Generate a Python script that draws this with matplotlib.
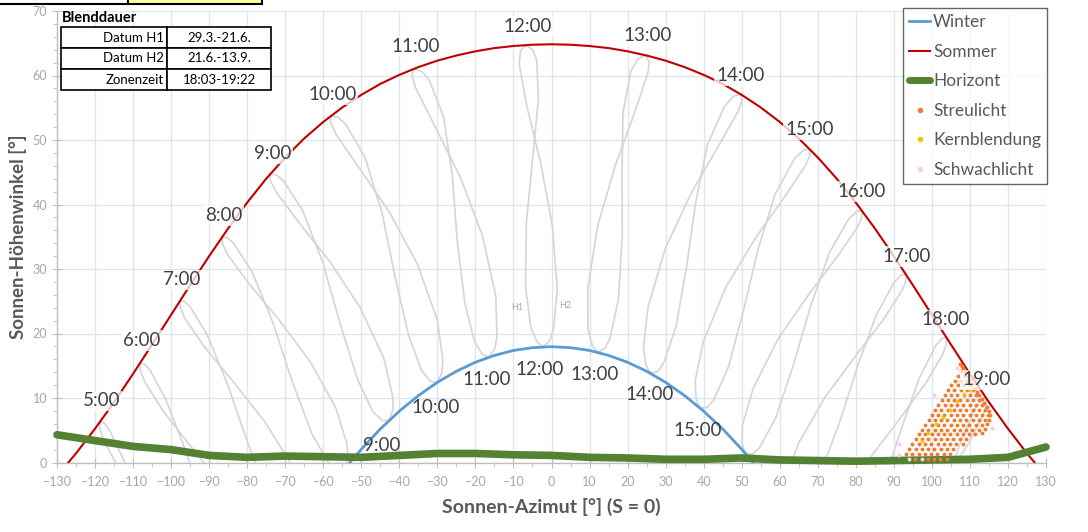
import matplotlib
matplotlib.use("Agg")
import matplotlib.pyplot as plt
from matplotlib.lines import Line2D
from matplotlib.patches import Rectangle
from matplotlib.ticker import MultipleLocator

plt.rcParams['font.family'] = ['Lato', 'DejaVu Sans']

# ---------------- data (read / estimated from the reference) ----------------
summer_az = [-127, -125, -120, -115, -110, -105, -100, -95, -90, -85, -80, -75, -70, -65, -60, -55, -50, -45,
             -40, -35, -30, -25, -20, -15, -10, -5, 0, 5, 10, 15, 20, 25, 30, 35, 40, 45, 50, 55, 60, 65,
             70, 75, 80, 85, 90, 95, 100, 105, 110, 115, 120, 125, 127]
summer_alt = [0, 1.42, 5.24, 9.35, 13.75, 18.3, 22.9, 27.5, 32.0, 36.3, 40.3, 44.0, 47.3, 50.25, 52.8, 55.05,
              57.0, 58.7, 60.1, 61.3, 62.3, 63.1, 63.75, 64.25, 64.57, 64.77, 64.84, 64.77, 64.57, 64.25,
              63.75, 63.1, 62.3, 61.3, 60.1, 58.7, 57.0, 55.05, 52.8, 50.25, 47.3, 44.0, 40.3, 36.3, 32.0,
              27.5, 22.9, 18.3, 13.75, 9.35, 5.24, 1.42, 0]

winter_az = [-53, -50, -45, -40, -35, -30, -25, -20, -15, -10, -5, 0, 5, 10, 15, 20, 25, 30, 35, 40, 45, 50, 53]
winter_alt = [0, 2.06, 5.2, 7.96, 10.37, 12.43, 14.15, 15.54, 16.6, 17.37, 17.8, 17.96, 17.8, 17.37, 16.6,
              15.54, 14.15, 12.43, 10.37, 7.96, 5.2, 2.06, 0]

horizon_az = [-130, -120, -110, -100, -90, -80, -70, -60, -50, -40, -30, -20, -10, 0, 10, 20, 30, 40, 50, 60,
              70, 80, 90, 100, 110, 120, 130]
horizon_alt = [4.3, 3.4, 2.5, 2.0, 1.1, 0.8, 1.0, 0.9, 0.8, 1.1, 1.4, 1.4, 1.2, 1.1, 0.8, 0.7, 0.5, 0.5, 0.7,
               0.4, 0.3, 0.2, 0.3, 0.4, 0.5, 0.8, 2.4]

# analemma loops per clock time (closed path Dec -> spring -> Jun -> autumn -> Dec)
loop_05_az = [-107.85, -112.50, -116.28, -117.58, -118.69, -118.74, -117.73, -113.24]
loop_05_alt = [-7.4, 0.44, 5.11, 6.11, 6.29, 5.30, 3.42, -1.45]
loop_06_az = [-91.31, -95.36, -96.48, -101.48, -105.60, -107.01, -108.16, -108.15, -106.98, -102.14, -94.77,
              -92.55, -86.75]
loop_06_alt = [-6.49, 0.34, 2.29, 9.91, 14.37, 15.28, 15.38, 14.39, 12.58, 7.99, 2.46, 0.81, -3.41]
loop_07_az = [-74.30, -77.87, -80.05, -85.21, -90.48, -94.94, -96.47, -97.70, -97.63, -96.33, -91.12, -83.47,
              -75.44, -68.31, -64.91]
loop_07_alt = [-4.74, -0.02, 3.38, 12.19, 19.76, 24.11, 24.98, 25.04, 24.05, 22.28, 17.82, 12.37, 6.38, -0.33,
               -5.70]
loop_08_az = [-54.32, -56.06, -58.61, -63.03, -68.38, -73.37, -78.77, -83.59, -85.28, -86.64, -86.56, -85.11,
              -79.50, -71.53, -63.48, -56.70, -53.76, -53.50, -54.32]
loop_08_alt = [-0.92, -1.16, -0.07, 4.49, 12.91, 21.92, 29.62, 34.01, 34.88, 34.94, 33.94, 32.18, 27.70, 22.04,
               15.66, 8.46, 2.82, 0.81, -0.92]
loop_09_az = [-42.70, -44.47, -46.92, -50.93, -55.64, -60.13, -65.39, -70.50, -72.39, -73.96, -73.90, -72.35,
              -66.35, -58.12, -50.24, -44.04, -41.72, -41.69, -42.70]
loop_09_alt = [6.52, 6.48, 7.83, 12.80, 21.67, 31.04, 39.06, 43.68, 44.61, 44.71, 43.72, 41.91, 37.18, 31.02,
               23.96, 16.09, 10.16, 8.13, 6.52]
loop_10_az = [-30.10, -31.89, -34.17, -37.57, -41.24, -44.62, -49.08, -54.10, -56.15, -58.00, -58.13, -56.61,
              -50.51, -42.44, -35.20, -30.02, -28.56, -28.84, -30.10]
loop_10_alt = [12.39, 12.60, 14.28, 19.72, 29.09, 38.89, 47.39, 52.45, 53.53, 53.77, 52.77, 50.84, 45.62, 38.64,
               30.69, 22.07, 15.87, 13.86, 12.39]
loop_11_az = [-16.49, -18.25, -20.27, -22.78, -24.80, -26.10, -28.39, -32.12, -34.04, -36.13, -36.71, -35.70,
              -30.59, -23.85, -18.17, -14.66, -14.33, -14.96, -16.49]
loop_11_alt = [16.32, 16.81, 18.81, 24.71, 34.50, 44.65, 53.62, 59.26, 60.58, 61.05, 60.11, 58.03, 52.09, 44.07,
               35.16, 25.84, 19.50, 17.57, 16.32]
loop_12_az = [-2.19, -3.85, -5.48, -6.83, -6.61, -4.92, -3.44, -3.88, -4.89, -6.73, -8.10, -8.49, -6.48, -2.82,
              0.22, 1.52, 0.55, -0.44, -2.19]
loop_12_alt = [17.93, 18.71, 21.03, 27.25, 37.19, 47.31, 56.36, 62.36, 63.94, 64.74, 63.92, 61.78, 55.27, 46.37,
               36.71, 26.98, 20.69, 18.90, 17.93]
loop_13_az = [12.20, 10.73, 9.58, 9.54, 12.14, 16.89, 22.15, 25.38, 25.67, 24.70, 22.83, 20.86, 18.79, 18.55,
              18.59, 17.61, 15.41, 14.10, 12.20]
loop_13_alt = [17.07, 18.11, 20.67, 27.01, 36.71, 46.26, 54.74, 60.47, 62.11, 63.14, 62.63, 60.70, 54.19, 45.01,
               35.08, 25.33, 19.32, 17.72, 17.07]
loop_14_az = [26.07, 24.83, 24.17, 25.35, 29.90, 36.74, 44.09, 49.08, 50.05, 49.77, 48.01, 45.47, 40.99, 37.90,
              35.57, 32.75, 29.57, 28.03, 26.07]
loop_14_alt = [13.81, 15.08, 17.79, 24.03, 33.15, 41.77, 49.29, 54.45, 56.00, 57.10, 56.84, 55.24, 49.23, 40.30,
               30.56, 21.11, 15.52, 14.15, 13.81]
loop_15_az = [39.03, 38.00, 37.78, 39.90, 45.73, 53.56, 61.48, 66.73, 67.86, 67.85, 66.37, 63.91, 58.79, 54.34,
              50.57, 46.50, 42.64, 40.95, 39.03]
loop_15_alt = [8.46, 9.90, 12.68, 18.69, 27.06, 34.73, 41.37, 46.02, 47.48, 48.60, 48.48, 47.13, 41.62, 33.14,
               23.78, 14.78, 9.67, 8.53, 8.46]
loop_16_az = [50.90, 50.08, 50.21, 53.02, 59.58, 67.68, 75.46, 80.46, 81.53, 81.63, 80.34, 78.12, 73.10, 68.22,
              63.77, 58.93, 54.61, 52.81, 50.90]
loop_16_alt = [1.47, 3.02, 5.80, 11.50, 19.18, 26.10, 32.17, 36.53, 37.93, 39.05, 39.00, 37.77, 32.58, 24.46,
               15.45, 6.89, 2.23, 1.29, 1.47]
loop_17_az = [61.92, 61.25, 61.66, 64.95, 71.93, 80.04, 87.50, 92.13, 93.11, 93.21, 92.08, 90.06, 85.36, 80.46,
              75.71, 70.39, 65.70, 63.83, 61.92]
loop_17_alt = [-6.79, -5.17, -2.42, 3.01, 10.15, 16.59, 22.37, 26.65, 28.04, 29.16, 29.12, 27.92, 22.85, 14.92,
               6.15, -2.06, -6.36, -7.14, -6.79]
loop_18_az = [76.13, 83.40, 91.47, 98.61, 102.89, 103.77, 103.85, 102.77, 100.94, 96.59, 91.86, 87.02]
loop_18_alt = [-6.33, 0.47, 6.71, 12.48, 16.83, 18.25, 19.36, 19.30, 18.06, 12.94, 5.04, -3.64]
loop_19_az = [94.67, 102.72, 109.57, 113.50, 114.27, 114.27, 113.26, 111.56, 107.57, 103.13]
loop_19_alt = [-9.43, -3.12, 2.87, 7.42, 8.88, 9.99, 9.87, 8.55, 3.26, -4.78]

loops = [(loop_05_az, loop_05_alt), (loop_06_az, loop_06_alt), (loop_07_az, loop_07_alt),
         (loop_08_az, loop_08_alt), (loop_09_az, loop_09_alt), (loop_10_az, loop_10_alt),
         (loop_11_az, loop_11_alt), (loop_12_az, loop_12_alt), (loop_13_az, loop_13_alt),
         (loop_14_az, loop_14_alt), (loop_15_az, loop_15_alt), (loop_16_az, loop_16_alt),
         (loop_17_az, loop_17_alt), (loop_18_az, loop_18_alt), (loop_19_az, loop_19_alt)]

# glare points: rows of the sampled sun positions (altitude of row, azimuths in that row)
streu_rows = [
    (0.55, [95.65, 98.95, 100.6, 102.25, 103.9]),
    (1.31, [93.2, 94.85, 96.5, 98.15, 99.8, 101.45, 103.1, 104.75]),
    (2.07, [94.05, 95.7, 97.35, 99.0, 100.65, 102.3, 103.95, 105.6]),
    (2.83, [94.9, 96.55, 98.2, 99.85, 101.5, 103.15, 104.8, 106.45, 108.1]),
    (3.59, [95.75, 97.4, 99.05, 100.7, 102.35, 104.0, 105.65, 107.3, 108.95]),
    (4.35, [96.6, 98.25, 99.9, 101.55, 103.2, 104.85, 106.5, 108.15, 109.8, 111.45]),
    (5.11, [97.45, 99.1, 100.75, 102.4, 104.05, 105.7, 107.35, 109.0, 110.65, 112.3]),
    (5.87, [98.3, 99.95, 101.6, 103.25, 104.9, 106.55, 108.2, 109.85, 111.5, 113.15]),
    (6.63, [99.15, 100.8, 102.45, 104.1, 105.75, 107.4, 109.05, 110.7, 112.35, 114.0]),
    (7.39, [100.0, 101.65, 103.3, 104.95, 106.6, 108.25, 109.9, 111.55, 113.2, 114.85]),
    (8.15, [100.85, 102.5, 104.15, 105.8, 107.45, 109.1, 110.75, 112.4, 114.05]),
    (8.91, [101.7, 103.35, 105.0, 106.65, 108.3, 109.95, 111.6, 113.25]),
    (9.67, [102.55, 104.2, 105.85, 107.5, 109.15, 110.8, 112.45]),
    (10.43, [103.4, 105.05, 106.7, 108.35, 110.0, 111.65]),
    (11.19, [104.25, 105.9, 107.55, 109.2, 110.85]),
    (11.95, [105.1, 106.75, 108.4, 110.05]),
    (12.71, [105.95, 107.6, 109.25]),
    (13.47, [106.8, 108.45]),
    (14.23, [107.65]),
]
streu_edge_az = [107.5, 107.9, 108.2, 108.05, 108.7, 109.35, 110.0, 110.6, 111.25, 111.9, 112.5, 113.15, 113.8,
                 114.45, 115.05, 115.3, 115.0, 114.6, 114.0, 113.3]
streu_edge_alt = [15.2, 14.9, 14.5, 14.6, 14.0, 13.4, 12.8, 12.2, 11.6, 11.0, 10.4, 9.8, 9.2, 8.6, 8.0, 7.3,
                  6.6, 5.9, 5.2, 4.6]
kern_az = [97.5, 99.1, 101.2, 103.0, 104.7, 106.5, 108.5, 110.2]
kern_alt = [3.4, 4.6, 6.0, 7.1, 8.2, 9.5, 10.6, 11.2]
schwach_az = [91.4, 91.4, 94.0, 97.3, 100.5, 106.5, 115.7]
schwach_alt = [1.2, 2.9, 0.55, 0.55, 10.5, 14.6, 5.3]

summer_labels = ['5:00', '6:00', '7:00', '8:00', '9:00', '10:00', '11:00', '12:00', '13:00', '14:00',
                 '15:00', '16:00', '17:00', '18:00', '19:00']
summer_lab_az = [-118.3, -107.8, -97.2, -86.2, -73.3, -57.6, -35.7, -6.3, 25.2, 49.7, 67.8, 81.5, 93.3,
                 103.5, 114.3]
summer_lab_alt = [9.55, 18.9, 28.3, 38.3, 47.9, 57.1, 64.5, 67.6, 66.2, 60.0, 51.6, 42.0, 31.9, 22.1, 12.8]
winter_labels = ['9:00', '10:00', '11:00', '12:00', '13:00', '14:00', '15:00']
winter_lab_az = [-44.7, -30.5, -17.1, -3.2, 11.3, 25.8, 38.4]
winter_lab_alt = [2.7, 8.6, 12.8, 14.4, 13.7, 10.5, 5.0]

table_rows = [['Datum H1', '29.3.-21.6.'], ['Datum H2', '21.6.-13.9.'], ['Zonenzeit', '18:03-19:22']]

# ---------------- figure ----------------
W, H = 1088, 532
fig = plt.figure(figsize=(W / 100, H / 100), dpi=100)
ax = fig.add_axes([57 / W, 1 - 462.5 / H, (1046 - 57) / W, (462.5 - 11) / H])

grid_c = '#DCE6F2'
ax.set_xlim(-130, 130)
ax.set_ylim(0, 70)
ax.xaxis.set_major_locator(MultipleLocator(10))
ax.xaxis.set_minor_locator(MultipleLocator(5))
ax.yaxis.set_major_locator(MultipleLocator(10))
ax.yaxis.set_minor_locator(MultipleLocator(2))
ax.grid(True, which='major', color=grid_c, lw=1.0, zorder=0)
ax.set_axisbelow(True)
for s in ['top', 'right']:
    ax.spines[s].set_visible(False)
for s in ['left', 'bottom']:
    ax.spines[s].set_color('#BFBFBF')
    ax.spines[s].set_linewidth(1.0)
ax.tick_params(axis='both', which='major', color='#BFBFBF', labelcolor='#A6A6A6', labelsize=9,
               direction='inout', length=7)
ax.tick_params(axis='both', which='minor', color='#BFBFBF', direction='out', length=3)
ax.tick_params(axis='x', pad=6)

ax.set_xlabel('Sonnen-Azimut [°] (S = 0)', fontsize=14, fontweight='bold', color='#595959', labelpad=7)
ax.set_ylabel('Sonnen-Höhenwinkel [°]', fontsize=13.5, fontweight='bold', color='#595959', labelpad=4)

for laz, lalt in loops:
    ax.plot(laz, lalt, color='#D6D6D6', lw=1.25, zorder=2)

ax.plot(winter_az, winter_alt, color='#5B9BD5', lw=2.0, zorder=3)
ax.plot(summer_az, summer_alt, color='#C00000', lw=1.5, zorder=3)
ax.plot(horizon_az, horizon_alt, color='#548235', lw=5.5, zorder=4, solid_capstyle='round', clip_on=False)

for alt_r, az_list in streu_rows:
    ax.scatter(az_list, [alt_r] * len(az_list), s=8, color='#ED7D31', zorder=5, linewidths=0)
ax.scatter(streu_edge_az, streu_edge_alt, s=8, color='#ED7D31', zorder=5, linewidths=0)
ax.scatter(kern_az, kern_alt, s=8, color='#FFC000', zorder=6, linewidths=0)
ax.scatter(schwach_az, schwach_alt, s=8, color='#F7CDEF', zorder=6, linewidths=0)

box = dict(boxstyle='square,pad=0.1', fc='white', ec='none', alpha=0.75)
for t, a, h in zip(summer_labels, summer_lab_az, summer_lab_alt):
    ax.text(a, h, t, fontsize=13.5, color='#404040', ha='center', va='center', bbox=box, zorder=7)
for t, a, h in zip(winter_labels, winter_lab_az, winter_lab_alt):
    ax.text(a, h, t, fontsize=13.5, color='#404040', ha='center', va='center', zorder=7)

ax.text(-8.9, 24.0, 'H1', fontsize=6.5, color='#A6A6A6', ha='center', va='center', zorder=7)
ax.text(3.7, 24.3, 'H2', fontsize=6.5, color='#A6A6A6', ha='center', va='center', zorder=7)

# legend
handles = [Line2D([], [], color='#5B9BD5', lw=2),
           Line2D([], [], color='#C00000', lw=1.5),
           Line2D([], [], color='#548235', lw=5, solid_capstyle='round'),
           Line2D([], [], ls='none', marker='o', ms=3.0, color='#ED7D31'),
           Line2D([], [], ls='none', marker='o', ms=3.0, color='#FFC000'),
           Line2D([], [], ls='none', marker='o', ms=3.0, color='#F7CDEF')]
labels = ['Winter', 'Sommer', 'Horizont', 'Streulicht', 'Kernblendung', 'Schwachlicht']
leg = ax.legend(handles, labels, loc='upper right', bbox_to_anchor=(1047 / W, 1 - 8 / H),
                bbox_transform=fig.transFigure, fontsize=12.5, frameon=True, fancybox=False,
                handlelength=1.2, handletextpad=0.15, labelspacing=0.78, borderpad=0.35, borderaxespad=0)
leg.get_frame().set_edgecolor('#404040')
leg.get_frame().set_linewidth(1.0)
leg.set_zorder(10)
for txt in leg.get_texts():
    txt.set_color('#595959')

# table (Blenddauer)
fig.text(62 / W, 1 - 18 / H, 'Blenddauer', fontsize=10.5, fontweight='bold', color='black', va='center',
         ha='left')
x0, x1, x2 = 61, 167, 271
ytop, rh = 27, 21
for i, (a, b) in enumerate(table_rows):
    yt = ytop + i * rh
    fig.patches.append(Rectangle((x0 / W, 1 - (yt + rh) / H), (x1 - x0) / W, rh / H, transform=fig.transFigure,
                                 fc='white', ec='black', lw=1.2, zorder=10))
    fig.patches.append(Rectangle((x1 / W, 1 - (yt + rh) / H), (x2 - x1) / W, rh / H, transform=fig.transFigure,
                                 fc='white', ec='black', lw=1.2, zorder=10))
    fig.text((x1 - 3) / W, 1 - (yt + rh / 2) / H, a, fontsize=9.5, ha='right', va='center', zorder=11)
    fig.text(((x1 + x2) / 2) / W, 1 - (yt + rh / 2) / H, b, fontsize=9.5, ha='center', va='center', zorder=11)

# partial box at the very top
fig.patches.append(Rectangle((-2 / W, 1 - 4 / H), 130 / W, 8 / H, transform=fig.transFigure,
                             fc='white', ec='black', lw=1.5, zorder=10))
fig.patches.append(Rectangle((128 / W, 1 - 4 / H), 134 / W, 8 / H, transform=fig.transFigure,
                             fc='#FFFF99', ec='black', lw=1.5, zorder=10))

fig.savefig('out.png', dpi=100)
